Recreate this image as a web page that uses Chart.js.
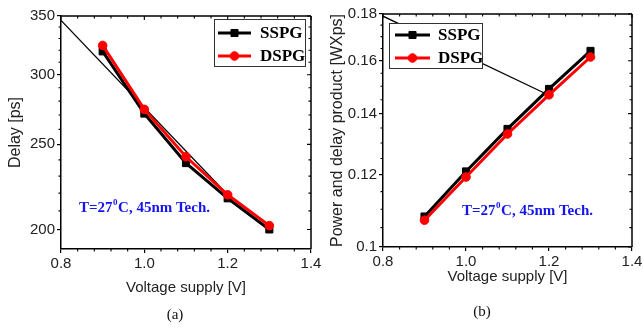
<!DOCTYPE html>
<html>
<head>
<meta charset="utf-8">
<script src="https://cdn.jsdelivr.net/npm/chart.js@4.4.1/dist/chart.umd.min.js"></script>
<style>
  html, body { margin: 0; padding: 0; background: #fff; }
  #wrap { position: relative; width: 643px; height: 329px; overflow: hidden; background: #fff; }
  canvas { position: absolute; top: 0; }
  .cap { position: absolute; font-family: "Liberation Serif", serif; font-size: 15px; color: #111; transform: translate(-50%, -50%); }
</style>
</head>
<body>
<div id="wrap">
  <canvas id="ca" width="321" height="329" style="left:0px"></canvas>
  <canvas id="cb" width="321" height="329" style="left:322px"></canvas>
  <div class="cap" style="left:175px; top:314px">(a)</div>
  <div class="cap" style="left:482px; top:311px">(b)</div>
</div>
<script>
// ---- data ----
const voltage = [0.9, 1.0, 1.1, 1.2, 1.3];
const seriesNames = ['SSPG', 'DSPG'];
const delaySSPG = [319, 271, 238, 217, 200];
const delayDSPG = [324, 274, 242, 219, 202];
const pdpSSPG = [0.108, 0.121, 0.1347, 0.149, 0.164];
const pdpDSPG = [0.107, 0.1193, 0.133, 0.1468, 0.1615];
const delayGuideX = [0.8, 1.2];
const delayGuideY = [346, 219];
const pdpGuideX = [0.8, 1.195];
const pdpGuideY = [0.179, 0.147];
const xTicks = [0.8, 1.0, 1.2, 1.4];
const delayTicks = [200, 250, 300, 350];
const pdpTicks = [0.1, 0.12, 0.14, 0.16, 0.18];
const annotationText = ['T=27', '0', 'C, 45nm Tech.'];
const xTitle = 'Voltage supply [V]';
const delayTitle = 'Delay [ps]';
const pdpTitle = 'Power and delay product [WXps]';

const pts = (xs, ys) => xs.map((x, i) => ({x: x, y: ys[i]}));

const tickFont = {family: 'Liberation Sans, Arial, sans-serif', size: 15};
const titleFontX = {family: 'Liberation Sans, Arial, sans-serif', size: 15};
const titleFontY = {family: 'Liberation Sans, Arial, sans-serif', size: 16};

const framePlugin = {
  id: 'frame',
  afterDraw(chart, args, opts) {
    const {ctx, chartArea: {left, right, top, bottom}, scales: {x, y}} = chart;
    ctx.save();
    ctx.strokeStyle = '#000';
    ctx.lineWidth = 1.5;
    ctx.beginPath();
    ctx.moveTo(left, top); ctx.lineTo(right, top);
    ctx.moveTo(right, top); ctx.lineTo(right, bottom);
    ctx.stroke();
    ctx.lineWidth = 1.1;
    ctx.beginPath();
    xTicks.forEach(v => { const px = x.getPixelForValue(v); ctx.moveTo(px, top); ctx.lineTo(px, top + 4); });
    for (let i = 1; i < 15; i++) {
      if (i % 5 === 0) continue;
      const px = x.getPixelForValue(0.8 + i * 0.04);
      ctx.moveTo(px, top); ctx.lineTo(px, top + 2.5);
      ctx.moveTo(px, bottom); ctx.lineTo(px, bottom + 2.5);
    }
    opts.yMajor.forEach(v => { const py = y.getPixelForValue(v); ctx.moveTo(right, py); ctx.lineTo(right - 4, py); });
    opts.yMinor.forEach(v => {
      const py = y.getPixelForValue(v);
      ctx.moveTo(left, py); ctx.lineTo(left - 2.5, py);
      ctx.moveTo(right, py); ctx.lineTo(right - 2.5, py);
    });
    ctx.stroke();
    ctx.restore();

    // legend
    const lg = opts.legend;
    ctx.save();
    ctx.fillStyle = '#fff';
    ctx.fillRect(lg.x1, lg.y1, lg.x2 - lg.x1, lg.y2 - lg.y1);
    ctx.strokeStyle = '#333';
    ctx.lineWidth = 1;
    ctx.strokeRect(lg.x1 + 0.5, lg.y1 + 0.5, lg.x2 - lg.x1, lg.y2 - lg.y1);
    chart.data.datasets.forEach(ds => {
      if (ds.legendRow === undefined) return;
      const ry = lg.rows[ds.legendRow];
      ctx.strokeStyle = ds.borderColor;
      ctx.lineWidth = 3;
      ctx.beginPath(); ctx.moveTo(lg.lx1, ry); ctx.lineTo(lg.lx2, ry); ctx.stroke();
      ctx.fillStyle = ds.backgroundColor;
      ctx.strokeStyle = ds.borderColor;
      ctx.lineWidth = 1;
      Chart.helpers.drawPoint(ctx, {pointStyle: ds.pointStyle, radius: ds.pointRadius, borderWidth: 1}, (lg.lx1 + lg.lx2) / 2, ry);
      ctx.fillStyle = '#000';
      ctx.font = 'bold 17px "Liberation Serif", "Times New Roman", serif';
      ctx.textBaseline = 'middle';
      ctx.textAlign = 'left';
      ctx.fillText(ds.label, lg.tx, ry + 1);
    });
    ctx.restore();

    // annotation
    const an = opts.note;
    ctx.save();
    ctx.fillStyle = '#1414ee';
    ctx.textBaseline = 'alphabetic';
    ctx.textAlign = 'left';
    ctx.font = 'bold 15px "Liberation Serif", "Times New Roman", serif';
    let cx = an.x;
    ctx.fillText(annotationText[0], cx, an.y);
    cx += ctx.measureText(annotationText[0]).width;
    ctx.font = 'bold 9px "Liberation Serif", "Times New Roman", serif';
    ctx.fillText(annotationText[1], cx + 0.5, an.y - 7);
    cx += ctx.measureText(annotationText[1]).width + 1;
    ctx.font = 'bold 15px "Liberation Serif", "Times New Roman", serif';
    ctx.fillText(annotationText[2], cx, an.y);
    ctx.restore();
  }
};

function makeChart(id, cfg) {
  const datasets = [
    {
      label: seriesNames[1], legendRow: 1,
      data: pts(voltage, cfg.dspg),
      borderColor: '#ff0000', backgroundColor: '#ff0000',
      pointStyle: 'circle', pointRadius: 4.3, pointBorderWidth: 1,
      borderWidth: 3, order: 0
    },
    {
      label: seriesNames[0], legendRow: 0,
      data: pts(voltage, cfg.sspg),
      borderColor: '#000000', backgroundColor: '#000000',
      pointStyle: 'rect', pointRadius: 5, pointBorderWidth: 1,
      borderWidth: 3, order: 1
    },
    {
      label: '',
      data: pts(cfg.guideX, cfg.guideY),
      borderColor: '#000000', borderWidth: 1.3,
      pointRadius: 0, order: 2
    }
  ];
  return new Chart(document.getElementById(id), {
    type: 'line',
    data: {datasets},
    options: {
      responsive: false,
      animation: false,
      devicePixelRatio: 1,
      layout: {padding: cfg.padding},
      plugins: {
        legend: {display: false},
        tooltip: {enabled: false},
        frame: {yMajor: cfg.yTicks, yMinor: cfg.yMinor, legend: cfg.legend, note: cfg.note}
      },
      elements: {line: {tension: 0}},
      scales: {
        x: {
          type: 'linear', min: 0.8, max: 1.4,
          afterBuildTicks: s => { s.ticks = xTicks.map(v => ({value: v})); },
          afterFit: s => { s.height = cfg.xHeight; s.paddingLeft = 0; s.paddingRight = 0; },
          ticks: {color: '#222', font: tickFont, padding: 2, maxRotation: 0, callback: v => Number(v).toFixed(1)},
          grid: {drawOnChartArea: false, drawTicks: true, tickLength: 4, color: '#000', lineWidth: 1.2},
          border: {color: '#000', width: 1.5},
          title: {display: true, text: xTitle, color: '#222', font: titleFontX, padding: {top: 0, bottom: 1}}
        },
        y: {
          type: 'logarithmic', min: cfg.yMin, max: cfg.yMax,
          afterBuildTicks: s => { s.ticks = cfg.yTicks.map(v => ({value: v})); },
          afterFit: s => { s.width = 61; s.paddingTop = 0; s.paddingBottom = 0; },
          ticks: {color: '#222', font: tickFont, padding: 2, callback: v => String(v)},
          grid: {drawOnChartArea: false, drawTicks: true, tickLength: 4, color: '#000', lineWidth: 1.2},
          border: {color: '#000', width: 1.5},
          title: {display: true, text: cfg.yTitle, color: '#222', font: titleFontY, padding: {top: 6, bottom: 0}}
        }
      }
    },
    plugins: [framePlugin]
  });
}

const delayMinor = [];
for (let v = 210; v < 350; v += 10) { if (v % 50 !== 0) delayMinor.push(v); }
const pdpMinor = [];
for (let i = 1; i < 16; i++) { if (i % 4 !== 0) pdpMinor.push(0.1 + i * 0.005); }

makeChart('ca', {
  sspg: delaySSPG, dspg: delayDSPG, guideX: delayGuideX, guideY: delayGuideY,
  yMin: 190, yMax: 350, yTicks: delayTicks, yMinor: delayMinor, yTitle: delayTitle,
  padding: {left: 0, right: 10, top: 16, bottom: 31}, xHeight: 49,
  legend: {x1: 214, y1: 19, x2: 305, y2: 66, rows: [33, 56], lx1: 218, lx2: 251, tx: 260},
  note: {x: 79, y: 212}
});
makeChart('cb', {
  sspg: pdpSSPG, dspg: pdpDSPG, guideX: pdpGuideX, guideY: pdpGuideY,
  yMin: 0.1, yMax: 0.18, yTicks: pdpTicks, yMinor: pdpMinor, yTitle: pdpTitle,
  padding: {left: 0, right: 11, top: 14, bottom: 42}, xHeight: 40,
  legend: {x1: 67, y1: 23, x2: 160, y2: 68, rows: [35, 58], lx1: 73, lx2: 108, tx: 116},
  note: {x: 140, y: 215}
});
</script>
</body>
</html>
